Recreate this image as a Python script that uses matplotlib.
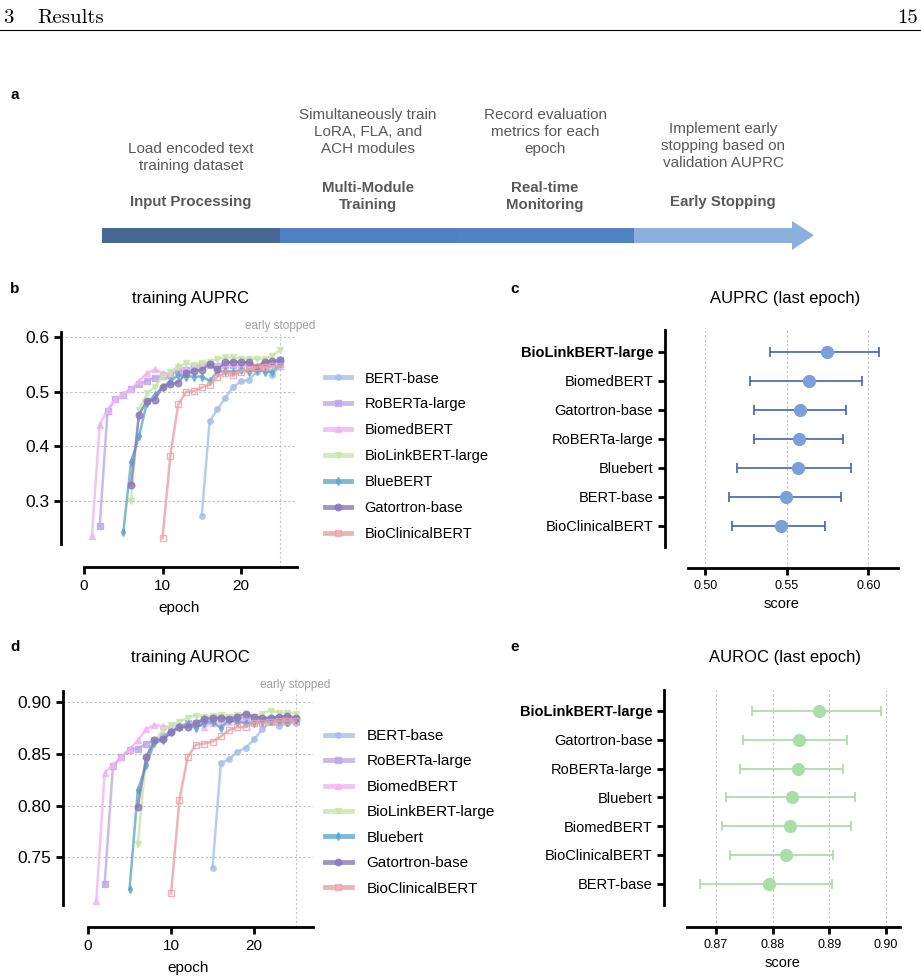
import matplotlib
matplotlib.use("Agg")
import matplotlib.pyplot as plt
from matplotlib.lines import Line2D
from matplotlib.patches import Rectangle, Polygon

plt.rcParams['font.family'] = ['Liberation Sans', 'DejaVu Sans']

W, H = 921, 980

# ---------------- data ----------------
models_b = ["BERT-base", "RoBERTa-large", "BiomedBERT", "BioLinkBERT-large",
            "BlueBERT", "Gatortron-base", "BioClinicalBERT"]
models_d = ["BERT-base", "RoBERTa-large", "BiomedBERT", "BioLinkBERT-large",
            "Bluebert", "Gatortron-base", "BioClinicalBERT"]
start_epoch = [15, 2, 1, 6, 5, 6, 10]

auprc_bert = [0.273, 0.446, 0.468, 0.489, 0.509, 0.519, 0.522, 0.537, 0.545, 0.531, 0.549]
auprc_roberta = [0.254, 0.465, 0.486, 0.495, 0.505, 0.514, 0.520, 0.526, 0.529, 0.531, 0.538, 0.540,
                 0.546, 0.549, 0.550, 0.547, 0.549, 0.549, 0.549, 0.550, 0.546, 0.552, 0.553, 0.558]
auprc_biomed = [0.235, 0.440, 0.467, 0.486, 0.496, 0.506, 0.519, 0.534, 0.541, 0.535, 0.534, 0.547, 0.541,
                0.545, 0.547, 0.553, 0.549, 0.552, 0.552, 0.551, 0.551, 0.545, 0.549, 0.551, 0.553]
auprc_biolink = [0.300, 0.467, 0.497, 0.509, 0.528, 0.537, 0.546, 0.552, 0.549, 0.552, 0.555, 0.560,
                 0.563, 0.563, 0.561, 0.560, 0.561, 0.560, 0.566, 0.577]
auprc_blue = [0.242, 0.372, 0.418, 0.479, 0.494, 0.509, 0.519, 0.531, 0.528, 0.528, 0.528, 0.520, 0.537,
              0.538, 0.537, 0.540, 0.537, 0.540, 0.537, 0.537, 0.552]
auprc_gator = [0.329, 0.457, 0.484, 0.485, 0.509, 0.514, 0.517, 0.534, 0.539, 0.540, 0.551, 0.541,
               0.554, 0.555, 0.555, 0.554, 0.546, 0.555, 0.557, 0.558]
auprc_clin = [0.231, 0.383, 0.477, 0.500, 0.501, 0.508, 0.513, 0.528, 0.535, 0.530, 0.537, 0.541,
              0.545, 0.546, 0.547, 0.547]

auroc_bert = [0.740, 0.841, 0.845, 0.852, 0.856, 0.864, 0.874, 0.881, 0.877, 0.880, 0.880]
auroc_roberta = [0.724, 0.838, 0.847, 0.854, 0.855, 0.860, 0.863, 0.867, 0.872, 0.876, 0.880, 0.880,
                 0.882, 0.883, 0.884, 0.884, 0.884, 0.885, 0.885, 0.884, 0.884, 0.883, 0.884, 0.884]
auroc_biomed = [0.708, 0.832, 0.839, 0.847, 0.855, 0.863, 0.874, 0.878, 0.877, 0.876, 0.878, 0.879, 0.880,
                0.876, 0.880, 0.881, 0.881, 0.882, 0.881, 0.883, 0.883, 0.883, 0.883, 0.883, 0.884]
auroc_biolink = [0.763, 0.847, 0.862, 0.873, 0.878, 0.881, 0.885, 0.887, 0.886, 0.887, 0.888, 0.886,
                 0.888, 0.888, 0.886, 0.889, 0.892, 0.890, 0.890, 0.889]
auroc_blue = [0.719, 0.815, 0.839, 0.861, 0.863, 0.871, 0.876, 0.879, 0.875, 0.880, 0.881, 0.875, 0.883,
              0.881, 0.880, 0.880, 0.881, 0.882, 0.882, 0.881, 0.883]
auroc_gator = [0.799, 0.847, 0.863, 0.864, 0.871, 0.876, 0.876, 0.880, 0.884, 0.885, 0.885, 0.884,
               0.886, 0.889, 0.886, 0.885, 0.885, 0.886, 0.887, 0.885]
auroc_clin = [0.715, 0.805, 0.847, 0.859, 0.860, 0.862, 0.867, 0.873, 0.876, 0.876, 0.880, 0.880,
              0.881, 0.882, 0.882, 0.882]

auprc_series = [auprc_bert, auprc_roberta, auprc_biomed, auprc_biolink, auprc_blue, auprc_gator, auprc_clin]
auroc_series = [auroc_bert, auroc_roberta, auroc_biomed, auroc_biolink, auroc_blue, auroc_gator, auroc_clin]

models_c = ["BioLinkBERT-large", "BiomedBERT", "Gatortron-base", "RoBERTa-large",
            "Bluebert", "BERT-base", "BioClinicalBERT"]
auprc_mean = [0.5744, 0.5634, 0.5583, 0.5577, 0.5571, 0.5495, 0.5464]
auprc_lo = [0.5400, 0.5272, 0.5299, 0.5299, 0.5196, 0.5147, 0.5166]
auprc_hi = [0.6067, 0.5963, 0.5861, 0.5847, 0.5894, 0.5832, 0.5734]

models_e = ["BioLinkBERT-large", "Gatortron-base", "RoBERTa-large", "Bluebert",
            "BiomedBERT", "BioClinicalBERT", "BERT-base"]
auroc_mean = [0.8882, 0.8846, 0.8844, 0.8835, 0.8831, 0.8824, 0.8793]
auroc_lo = [0.8764, 0.8748, 0.8743, 0.8718, 0.8711, 0.8724, 0.8671]
auroc_hi = [0.8992, 0.8932, 0.8925, 0.8946, 0.8939, 0.8907, 0.8905]

steps_desc = ["Load encoded text\ntraining dataset",
              "Simultaneously train\nLoRA, FLA, and\nACH modules",
              "Record evaluation\nmetrics for each\nepoch",
              "Implement early\nstopping based on\nvalidation AUPRC"]
steps_title = ["Input Processing", "Multi-Module\nTraining", "Real-time\nMonitoring", "Early Stopping"]

# styles
colors = ["#a6c1e8", "#bda8e6", "#f0b4f4", "#c9e6a8", "#5ea9c9", "#8a7aba", "#eaa0a6"]
markers = ["o", "s", "^", "v", "d", "o", "s"]
msizes = [4, 5, 4, 4, 4, 4.8, 5]

fig = plt.figure(figsize=(W / 100, H / 100), dpi=100)


def px_axes(l, t, r, b):
    return fig.add_axes([l / W, 1 - b / H, (r - l) / W, (b - t) / H])


def ftext(x, y, s, **kw):
    fig.text(x / W, 1 - y / H, s, **kw)


# ---------------- header + panel a (pixel canvas) ----------------
ax0 = fig.add_axes([0, 0, 1, 1])
ax0.set_xlim(0, W)
ax0.set_ylim(H, 0)
ax0.axis("off")
ax0.text(3, 23, "3", fontfamily="cmr10", fontsize=15, va="baseline")
ax0.text(37, 23, "Results", fontfamily="cmr10", fontsize=15, va="baseline")
ax0.text(918, 23, "15", fontfamily="cmr10", fontsize=15, va="baseline", ha="right")
ax0.plot([0, W], [30.5, 30.5], color="black", lw=0.8)

seg_x = [102, 280, 457, 634, 792]
seg_c = ["#476895", "#4f80c1", "#5183c4", "#8ab0de"]
for i in range(4):
    ax0.add_patch(Rectangle((seg_x[i], 228), seg_x[i + 1] - seg_x[i] + 0.5, 14.5, color=seg_c[i], lw=0))
ax0.add_patch(Polygon([[792, 221], [814, 235.2], [792, 250]], closed=True, color=seg_c[3], lw=0))

col_x = [191, 368, 545, 723]
desc_y = [157.8, 132.3, 132.3, 145.6]
title_y = [202.3, 196.2, 196.2, 202.3]
for i in range(4):
    ax0.text(col_x[i], desc_y[i], steps_desc[i], ha="center", va="center", fontsize=11,
             color="#595959", linespacing=1.27)
    ax0.text(col_x[i], title_y[i], steps_title[i], ha="center", va="center", fontsize=10.8,
             color="#595959", fontweight="bold", linespacing=1.27)

for lab, x, y in [("a", 10, 95), ("b", 10, 289), ("c", 510, 289), ("d", 10, 647), ("e", 510, 647)]:
    ax0.text(x, y, lab, fontsize=11, fontweight="bold", ha="left", va="center")


def prism_style(ax):
    for s in ["top", "right"]:
        ax.spines[s].set_visible(False)
    for s in ["left", "bottom"]:
        ax.spines[s].set_linewidth(2.0)
    ax.tick_params(width=2.0, length=5, direction="out")
    ax.patch.set_alpha(0)


def line_panel(rect, xlim, ylim, ybounds, yticks, yfmt, series, labels, leg_top, leg_fs, leg_sp, title, tx, ty):
    ax = px_axes(*rect)
    prism_style(ax)
    ax.set_xlim(*xlim)
    ax.set_ylim(*ylim)
    ax.spines["left"].set_bounds(*ybounds)
    ax.spines["bottom"].set_bounds(0, xlim[1])
    ax.set_yticks(yticks)
    ax.set_yticklabels([yfmt % v for v in yticks], fontsize=12.5)
    ax.set_xticks([0, 10, 20])
    ax.tick_params(axis="x", labelsize=11)
    for v in yticks:
        ax.axhline(v, color="#bdbdbd", lw=0.8, ls=(0, (2, 2)), zorder=0)
    ax.axvline(25, color="#c6c6c6", lw=0.8, ls=(0, (2, 2)), zorder=0)
    ax.text(25, ylim[1], "early stopped", ha="center", va="bottom", fontsize=8.5, color="#a0a0a0",
            clip_on=False)
    ax.set_xlabel("epoch", fontsize=11, labelpad=6)
    handles = []
    for k in range(7):
        ep = list(range(start_epoch[k], start_epoch[k] + len(series[k])))
        mfc = "none" if k == 6 else colors[k]
        ax.plot(ep, series[k], color=colors[k], lw=1.8, marker=markers[k], ms=msizes[k],
                mfc=mfc, mec=colors[k], alpha=0.8, clip_on=False)
        handles.append(Line2D([0], [0], color=colors[k], lw=3.5, marker=markers[k], ms=msizes[k],
                              mfc=mfc, mec=colors[k], alpha=0.8))
    ax.legend(handles, labels, loc="upper left", bbox_to_anchor=(325 / W, 1 - leg_top / H),
              bbox_transform=fig.transFigure, frameon=False, borderpad=0, borderaxespad=0,
              handlelength=1.76, handletextpad=0.95, labelspacing=leg_sp, fontsize=leg_fs)
    ftext(tx, ty, title, ha="center", va="center", fontsize=12)
    return ax


line_panel((61, 331.7, 297, 567), (-2.93, 27.13), (0.1785, 0.6103), (0.22, 0.6103),
           [0.3, 0.4, 0.5, 0.6], "%.1f", auprc_series, models_b, 371.5, 10.5, 0.82,
           "training AUPRC", 190, 298)
line_panel((63.3, 690.7, 313, 927.3), (-2.98, 27.1), (0.6822, 0.9112), (0.704, 0.9112),
           [0.75, 0.80, 0.85, 0.90], "%.2f", auroc_series, models_d, 729, 11, 0.75,
           "training AUROC", 190, 657)


def forest_panel(rect, ylim, ybounds, xlim, xlo, xticks, names, mean, lo, hi, mcol, ecol, title, tx, ty):
    ax = px_axes(*rect)
    prism_style(ax)
    ax.set_ylim(*ylim)
    ax.set_xlim(*xlim)
    ax.spines["left"].set_bounds(*ybounds)
    ax.spines["bottom"].set_bounds(xlo, xlim[1])
    ypos = list(range(len(names)))
    ax.set_yticks(ypos)
    ax.set_yticklabels(names, fontsize=10.5)
    ax.get_yticklabels()[0].set_fontweight("bold")
    ax.set_xticks(xticks)
    ax.set_xticklabels(["%.2f" % v for v in xticks], fontsize=9)
    for v in xticks:
        ax.axvline(v, color="#c4c4c4", lw=0.8, ls=(0, (2, 2)), zorder=0)
    err = [[m - l for m, l in zip(mean, lo)], [h - m for m, h in zip(mean, hi)]]
    ax.errorbar(mean, ypos, xerr=err, fmt="o", ms=8.5, mfc=mcol, mec=mcol, ecolor=ecol,
                elinewidth=1.2, capsize=3.5, capthick=1.2, zorder=3)
    ax.set_xlabel("score", fontsize=10.5, labelpad=4)
    ftext(tx, ty, title, ha="center", va="center", fontsize=12)
    return ax


forest_panel((665, 330, 898, 568), (7.459, -0.748), (6.72, -0.748), (0.4753, 0.6182), 0.4894,
             [0.50, 0.55, 0.60], models_c, auprc_mean, auprc_lo, auprc_hi, "#7b9fd8", "#3f66a8",
             "AUPRC (last epoch)", 785, 298)
forest_panel((664.3, 690, 900, 926.7), (7.49, -0.729), (6.74, -0.729), (0.86087, 0.9025), 0.8649,
             [0.87, 0.88, 0.89, 0.90], models_e, auroc_mean, auroc_lo, auroc_hi, "#a9dea9", "#a6daa6",
             "AUROC (last epoch)", 785, 657)

fig.savefig("out.png", dpi=100)
